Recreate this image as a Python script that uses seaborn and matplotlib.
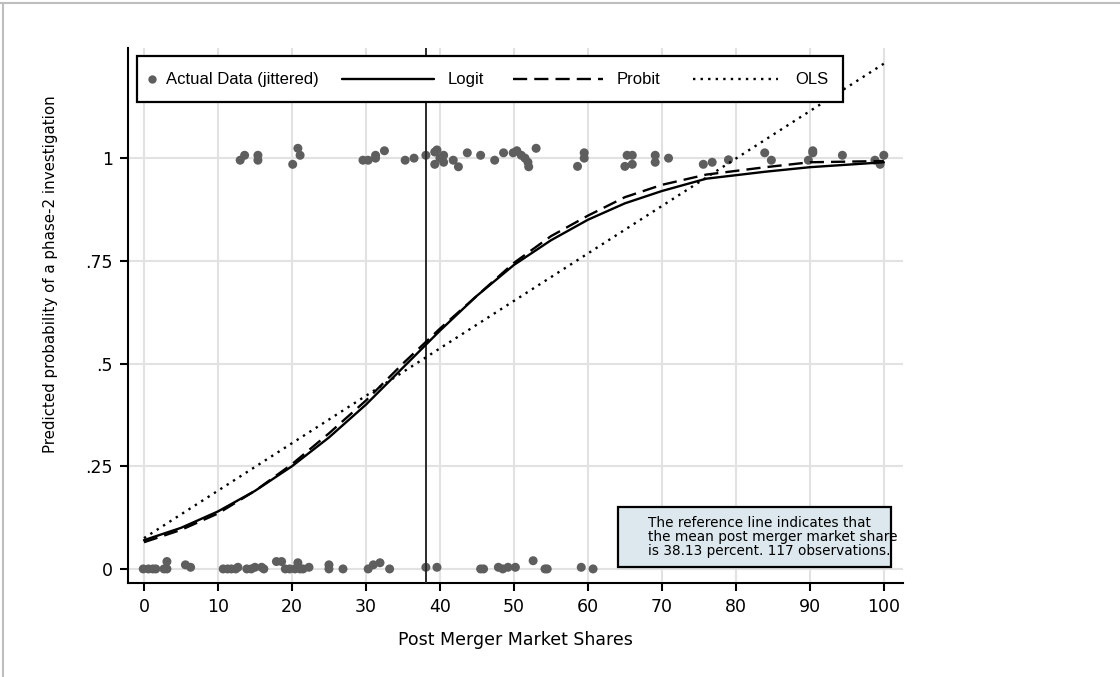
import matplotlib
matplotlib.use("Agg")
import matplotlib.pyplot as plt
from matplotlib.lines import Line2D
from matplotlib.patches import Rectangle
import numpy as np
import pandas as pd
import seaborn as sns

# jittered observations (y = 1: phase-2 investigation opened)
top_x = [13.0, 13.6, 15.4, 15.4, 20.1, 20.8, 21.1, 29.6, 30.3, 31.3, 31.3, 32.5,
         35.3, 36.5, 38.1, 39.3, 39.6, 39.3, 40.0, 40.5, 40.5, 41.8, 42.5, 43.7,
         45.5, 47.4, 48.6, 49.9, 50.4, 51.0, 51.5, 51.9, 52.0, 53.0, 58.6, 59.5,
         59.5, 65.0, 65.3, 66.0, 66.0, 69.1, 69.1, 70.9, 75.6, 76.8, 79.0, 83.9,
         84.8, 89.8, 90.4, 90.4, 94.4, 98.8, 99.5, 100.0]
top_y = [0.995, 1.007, 1.007, 0.995, 0.985, 1.024, 1.007, 0.995, 0.995, 1.007, 1.0, 1.018,
         0.995, 1.0, 1.007, 1.015, 1.02, 0.985, 1.0, 1.007, 0.99, 0.995, 0.979, 1.013,
         1.007, 0.995, 1.013, 1.013, 1.018, 1.007, 1.0, 0.99, 0.979, 1.024, 0.98, 1.013,
         1.0, 0.98, 1.007, 1.007, 0.985, 1.007, 0.99, 1.0, 0.985, 0.99, 0.996, 1.013,
         0.995, 0.995, 1.018, 1.013, 1.007, 0.995, 0.985, 1.007]
bot_x = [-0.1, 0.6, 1.2, 1.6, 2.7, 3.1, 3.1, 5.6, 6.3, 10.7, 11.3, 11.8, 12.4, 12.7,
         13.9, 14.5, 15.0, 15.9, 16.2, 17.9, 18.6, 19.1, 19.7, 20.4, 20.8, 21.1, 21.5,
         22.3, 25.0, 25.0, 26.9, 30.3, 31.0, 31.9, 33.2, 38.1, 39.6, 45.5, 45.9, 47.9,
         48.5, 49.2, 50.2, 52.6, 54.2, 54.5, 59.1, 60.7]
bot_y = [0.0, 0.0, 0.0, 0.0, 0.0, 0.018, 0.0, 0.01, 0.004, 0.0, 0.0, 0.0, 0.0, 0.004,
         0.0, 0.0, 0.004, 0.004, 0.0, 0.018, 0.018, 0.0, 0.0, 0.0, 0.015, 0.0, 0.0,
         0.004, 0.01, 0.0, 0.0, 0.0, 0.01, 0.015, 0.0, 0.004, 0.004, 0.0, 0.0, 0.004,
         0.0, 0.004, 0.004, 0.02, 0.0, 0.0, 0.004, 0.0]

# fitted probabilities
fit_x = [0, 5, 10, 15, 20, 25, 30, 35, 40, 45, 50, 55, 60, 65, 70, 76, 84, 90, 100]
logit_p = [0.07, 0.10, 0.14, 0.19, 0.25, 0.32, 0.40, 0.49, 0.58, 0.665, 0.74, 0.80,
           0.85, 0.89, 0.92, 0.95, 0.967, 0.978, 0.99]
probit_p = [0.065, 0.095, 0.135, 0.19, 0.255, 0.33, 0.41, 0.50, 0.585, 0.665, 0.745, 0.81,
            0.86, 0.905, 0.935, 0.96, 0.978, 0.99, 0.993]
ols_x = [0, 100]
ols_p = [0.075, 1.23]

mean_share = 38.13
x_ticks = [0, 10, 20, 30, 40, 50, 60, 70, 80, 90, 100]
y_ticks = [0, 0.25, 0.5, 0.75, 1]
y_ticklabels = ["0", ".25", ".5", ".75", "1"]
note = ("The reference line indicates that\n"
        "the mean post merger market share\n"
        "is 38.13 percent. 117 observations.")

sns.set_theme(style="white")
plt.rcParams["font.family"] = ["DejaVu Sans"]
plt.rcParams["text.color"] = "black"
plt.rcParams["axes.labelcolor"] = "black"
plt.rcParams["xtick.color"] = "black"
plt.rcParams["ytick.color"] = "black"

pts = pd.DataFrame({"share": top_x + bot_x, "phase2": top_y + bot_y})
fits = pd.DataFrame({"share": fit_x, "logit": logit_p, "probit": probit_p})
ols = pd.DataFrame({"share": ols_x, "ols": ols_p})

fig = plt.figure(figsize=(11.2, 6.77), dpi=100)
ax = fig.add_axes([0.1143, 0.139, 0.6920, 0.790])

ax.set_xlim(-2.16, 102.6)
ax.set_ylim(-0.034, 1.268)
ax.set_xticks(x_ticks)
ax.set_yticks(y_ticks)
ax.set_yticklabels(y_ticklabels)
ax.grid(True, color="#e2e2e2", lw=1.5)
ax.set_axisbelow(True)

sns.scatterplot(data=pts, x="share", y="phase2", ax=ax, color="#5e5e5e", s=42,
                edgecolor="none", zorder=3)
sns.lineplot(data=fits, x="share", y="logit", ax=ax, color="black", lw=1.7, zorder=4)
sns.lineplot(data=fits, x="share", y="probit", ax=ax, color="black", lw=1.7,
             linestyle=(0, (6, 3)), zorder=4)
sns.lineplot(data=ols, x="share", y="ols", ax=ax, color="black", lw=1.7,
             linestyle=(0, (1, 2.2)), zorder=4)
ax.axvline(mean_share, color="#2a2a2a", lw=1.4, zorder=3)

for s in ["top", "right"]:
    ax.spines[s].set_visible(False)
for s in ["left", "bottom"]:
    ax.spines[s].set_color("black")
    ax.spines[s].set_linewidth(1.5)
ax.tick_params(axis="both", direction="out", length=6, width=1.5, color="black",
               labelcolor="black", labelsize=12.5, pad=5, bottom=True, left=True)
ax.set_xlabel("Post Merger Market Shares", fontsize=12.5, labelpad=11)
ax.set_ylabel("Predicted probability of a phase-2 investigation", fontsize=10.8)
ax.yaxis.set_label_coords(-0.09, 0.578)

# legend box drawn by hand (marker sits close to its text, as in the original)
tr = ax.transAxes
ax.add_patch(Rectangle((0.0116, 0.899), 0.9114, 0.086, transform=tr, facecolor="white",
                       edgecolor="black", lw=1.6, zorder=10, clip_on=False))
ly = 0.942
lf = dict(transform=tr, va="center", ha="left", fontsize=12,
          family=["Liberation Sans"], zorder=11)
ax.plot([0.031], [ly], "o", color="#5e5e5e", ms=6, mec="none", transform=tr, zorder=11)
ax.text(0.049, ly, "Actual Data (jittered)", **lf)
ax.plot([0.276, 0.395], [ly, ly], color="black", lw=1.7, transform=tr, zorder=11)
ax.text(0.413, ly, "Logit", **lf)
ax.plot([0.497, 0.613], [ly, ly], color="black", lw=1.7, linestyle=(0, (6, 3)),
        transform=tr, zorder=11)
ax.text(0.631, ly, "Probit", **lf)
ax.plot([0.729, 0.839], [ly, ly], color="black", lw=1.7, linestyle=(0, (1, 2.2)),
        transform=tr, zorder=11)
ax.text(0.861, ly, "OLS", **lf)

# note box (text runs slightly past its right edge, as in the original)
ax.add_patch(Rectangle((0.632, 0.030), 0.353, 0.112, transform=tr, facecolor="#dce8ee",
                       edgecolor="black", lw=1.6, zorder=10))
ax.text(0.671, 0.086, note, transform=tr, va="center", ha="left", fontsize=9.8,
        linespacing=1.0, family=["DejaVu Sans"], zorder=11)

# outer frame (top and left edges)
fig.add_artist(Line2D([0, 1], [0.9956, 0.9956], color="#bebebe", lw=1.5,
                      transform=fig.transFigure))
fig.add_artist(Line2D([0.0027, 0.0027], [0, 0.9956], color="#bebebe", lw=1.5,
                      transform=fig.transFigure))

fig.savefig("out.png", dpi=100)
